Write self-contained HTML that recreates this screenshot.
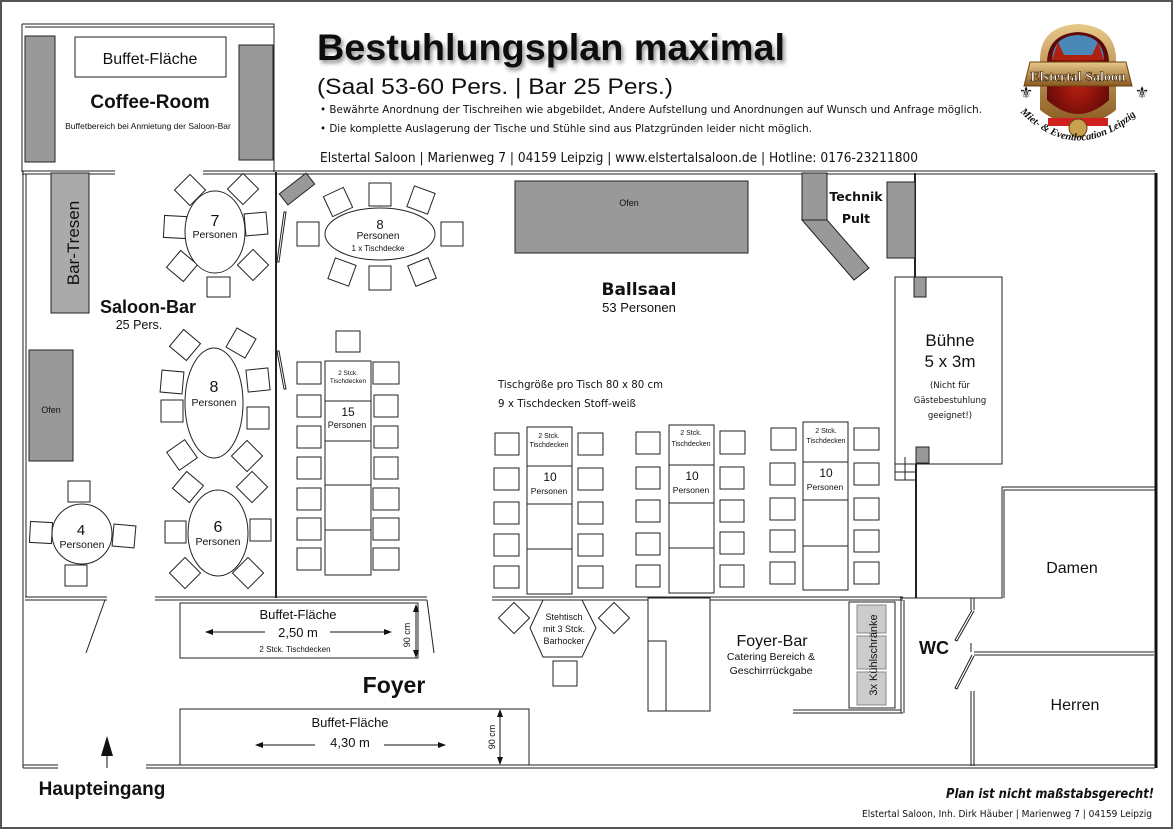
<!DOCTYPE html>
<html><head><meta charset="utf-8"><style>
html,body{margin:0;padding:0;background:#fff;}
svg{display:block;}
text{font-family:"Liberation Sans",sans-serif;fill:#111;}
.c{fill:#fff;stroke:#222;stroke-width:1;}
.g{fill:#999;stroke:#222;stroke-width:1;}
.w{fill:none;stroke:#222;stroke-width:1;}
.dv{font-family:"DejaVu Sans",sans-serif;}
</style></head><body>
<svg width="1173" height="829" viewBox="0 0 1173 829" xmlns="http://www.w3.org/2000/svg">
<defs>
<marker id="ah" markerWidth="8" markerHeight="8" refX="7" refY="4" orient="auto"><path d="M0,1 L8,4 L0,7 z" fill="#111"/></marker>
<filter id="sh" x="-5%" y="-20%" width="110%" height="150%"><feDropShadow dx="2" dy="3" stdDeviation="2" flood-color="#000" flood-opacity="0.45"/></filter>
<linearGradient id="gold" x1="0" y1="0" x2="0" y2="1"><stop offset="0" stop-color="#e8c98a"/><stop offset="1" stop-color="#8a5a20"/></linearGradient>
<radialGradient id="red" cx="0.5" cy="0.6" r="0.6"><stop offset="0" stop-color="#c02010"/><stop offset="1" stop-color="#5a0808"/></radialGradient>
</defs>
<rect x="1" y="1" width="1171" height="827" fill="#fff" stroke="#555" stroke-width="2"/>

<!-- Coffee room -->
<path class="w" d="M22,24 H274 V172 M22,24 V172 M25,27 H274"/>
<rect class="g" x="25" y="36" width="30" height="126"/>
<rect class="g" x="239" y="45" width="34" height="115"/>
<rect class="c" x="75" y="37" width="151" height="40"/>
<text x="150" y="64" font-size="16" text-anchor="middle">Buffet-Fläche</text>
<text x="150" y="108" font-size="19" font-weight="bold" text-anchor="middle">Coffee-Room</text>
<text x="148" y="129" font-size="8.5" text-anchor="middle">Buffetbereich bei Anmietung der Saloon-Bar</text>

<!-- header -->
<text x="317" y="60" font-size="37" font-weight="bold" filter="url(#sh)" textLength="468" lengthAdjust="spacingAndGlyphs">Bestuhlungsplan maximal</text>
<text x="317" y="94" font-size="22" textLength="356" lengthAdjust="spacingAndGlyphs">(Saal 53-60 Pers. | Bar 25 Pers.)</text>
<text x="320" y="113" font-size="10.5" class="dv" textLength="662" lengthAdjust="spacingAndGlyphs">•  Bewährte Anordnung der Tischreihen wie abgebildet, Andere Aufstellung und Anordnungen auf Wunsch und Anfrage möglich.</text>
<text x="320" y="132" font-size="10.5" class="dv" textLength="492" lengthAdjust="spacingAndGlyphs">•  Die komplette Auslagerung der Tische und Stühle sind aus Platzgründen leider nicht möglich.</text>
<text x="320" y="162" font-size="13.5" class="dv" textLength="598" lengthAdjust="spacingAndGlyphs">Elstertal Saloon | Marienweg 7 | 04159 Leipzig | www.elstertalsaloon.de | Hotline: 0176-23211800</text>

<!-- logo -->
<path d="M1040,110 L1040,60 Q1040,26 1078,24 Q1116,26 1116,60 L1116,110 Q1078,140 1040,110 z" fill="url(#gold)"/>
<path d="M1047,100 L1047,62 Q1048,34 1078,32 Q1108,34 1109,62 L1109,100 Q1078,128 1047,100 z" fill="url(#red)"/>
<path d="M1052,60 Q1053,36 1078,35 Q1103,36 1104,60 z" fill="#4a88b8"/>
<path d="M1052,60 L1058,42 L1064,55 L1092,55 L1098,42 L1104,60 z" fill="#b02010"/>
<path d="M1030,62 L1126,62 L1132,86 L1024,86 z" fill="url(#gold)" stroke="#6a4010"/>
<text x="1078" y="81" font-size="14" font-weight="bold" text-anchor="middle" style="font-family:'Liberation Serif',serif;fill:#fff;stroke:#3a2008;stroke-width:0.6">Elstertal Saloon</text>
<rect x="1048" y="118" width="60" height="8" fill="#d02020"/>
<circle cx="1078" cy="128" r="9" fill="#c8a050" stroke="#6a4010"/>
<text x="1026" y="98" font-size="16" text-anchor="middle">⚜</text>
<text x="1142" y="98" font-size="16" text-anchor="middle">⚜</text>
<path id="arc" d="M1020,112 Q1078,170 1142,110" fill="none"/>
<text font-size="10.5" style="font-family:'Liberation Serif',serif;font-weight:bold;font-style:italic"><textPath href="#arc">Miet- &amp; Eventlocation Leipzig</textPath></text>

<!-- main walls -->
<path class="w" d="M22,171 H115 M22,174 H115 M203,171 H1155 M203,174 H1155"/>
<path class="w" d="M23,171 V768 M26,174 V597"/>
<line x1="1156" y1="173" x2="1156" y2="768" stroke="#111" stroke-width="3"/>
<path class="w" d="M23,765 H58 M23,768 H58 M146,765 H1155 M146,768 H1155"/>
<path class="w" d="M25,597 H107 M25,600 H107 M155,597 H427 M155,600 H427 M492,597 H903 M492,600 H903"/>
<line x1="276" y1="172" x2="276" y2="598" stroke="#222" stroke-width="2"/>
<path class="w" d="M277,262 L284,212 L286,212 L279,262 z M277,351 L284,389 L286,389 L279,351 z"/>
<path class="w" d="M105,600 L86,653 M427,600 L434,653"/>
<rect class="g" x="280" y="182" width="34" height="14" transform="rotate(-38 297 189)"/>

<!-- right side walls -->
<line x1="915" y1="173" x2="915" y2="277" stroke="#222" stroke-width="2"/>
<rect class="c" x="895" y="277" width="107" height="187"/>
<rect class="g" x="914" y="277" width="12" height="20"/>
<rect class="g" x="916" y="447" width="13" height="16"/>
<path class="w" d="M895,464 V480 H916 M895,472 H916 M905,457 V480"/>
<line x1="916" y1="464" x2="916" y2="598" stroke="#222" stroke-width="2"/>
<path class="w" d="M900,598 H1002 V487 H1155 M1004,598 V490 H1155"/>
<text x="950" y="346" font-size="17" text-anchor="middle">Bühne</text>
<text x="950" y="367" font-size="17" text-anchor="middle">5 x 3m</text>
<text x="950" y="388" font-size="8.5" text-anchor="middle" class="dv">(Nicht für</text>
<text x="950" y="403" font-size="8.5" text-anchor="middle" class="dv">Gästebestuhlung</text>
<text x="950" y="418" font-size="8.5" text-anchor="middle" class="dv">geeignet!)</text>
<text x="1072" y="573" font-size="16" text-anchor="middle">Damen</text>
<text x="1075" y="710" font-size="16" text-anchor="middle">Herren</text>
<path class="w" d="M971,598 V610 M974,598 V610 M971,643 V652 M974,652 H1154 M974,655 H1154 M971,691 V766 M974,691 V766"/>
<path class="w" d="M972,610 L955,640 L957,641 L974,611 M972,655 L955,688 L957,689 L974,656"/>
<text x="934" y="654" font-size="18" font-weight="bold" text-anchor="middle">WC</text>

<!-- foyer bar -->
<path class="w" d="M901,598 V713 M904,600 V713 M793,713 H903 M793,710 H901"/>
<rect class="c" x="849" y="602" width="46" height="106"/>
<rect x="857" y="605" width="29" height="28" fill="#ccc" stroke="#888"/>
<rect x="857" y="636" width="29" height="33" fill="#ccc" stroke="#888"/>
<rect x="857" y="672" width="29" height="33" fill="#ccc" stroke="#888"/>
<text transform="translate(877,655) rotate(-90)" font-size="11" text-anchor="middle">3x Kühlschränke</text>
<rect class="c" x="648" y="598" width="62" height="113"/>
<rect class="c" x="648" y="641" width="18" height="70"/>
<text x="772" y="646" font-size="16" text-anchor="middle">Foyer-Bar</text>
<text x="771" y="660" font-size="10.5" text-anchor="middle">Catering Bereich &amp;</text>
<text x="771" y="674" font-size="10.5" text-anchor="middle">Geschirrrückgabe</text>
<polygon class="c" points="543,600 582,600 596,628 582,657 543,657 530,628"/>
<text x="564" y="620" font-size="9" text-anchor="middle">Stehtisch</text>
<text x="564" y="632" font-size="9" text-anchor="middle">mit 3 Stck.</text>
<text x="564" y="644" font-size="9" text-anchor="middle">Barhocker</text>
<rect class="c" x="503" y="607" width="22" height="22" transform="rotate(45 514 618)"/>
<rect class="c" x="603" y="607" width="22" height="22" transform="rotate(45 614 618)"/>
<rect class="c" x="553" y="661" width="24" height="25"/>

<!-- foyer buffets -->
<rect class="c" x="180" y="603" width="238" height="55"/>
<text x="298" y="619" font-size="13" text-anchor="middle">Buffet-Fläche</text>
<line x1="265" y1="632" x2="206" y2="632" stroke="#111" marker-end="url(#ah)"/>
<line x1="330" y1="632" x2="391" y2="632" stroke="#111" marker-end="url(#ah)"/>
<text x="298" y="637" font-size="13" text-anchor="middle">2,50 m</text>
<text x="295" y="652" font-size="8" text-anchor="middle">2 Stck. Tischdecken</text>
<line x1="416" y1="630" x2="416" y2="605" stroke="#111" marker-end="url(#ah)"/>
<line x1="416" y1="630" x2="416" y2="657" stroke="#111" marker-end="url(#ah)"/>
<text transform="translate(410,635) rotate(-90)" font-size="9" text-anchor="middle">90 cm</text>
<rect class="c" x="180" y="709" width="349" height="56"/>
<text x="350" y="727" font-size="13" text-anchor="middle">Buffet-Fläche</text>
<line x1="315" y1="745" x2="256" y2="745" stroke="#111" marker-end="url(#ah)"/>
<line x1="384" y1="745" x2="445" y2="745" stroke="#111" marker-end="url(#ah)"/>
<text x="350" y="747" font-size="13" text-anchor="middle">4,30 m</text>
<line x1="500" y1="737" x2="500" y2="710" stroke="#111" marker-end="url(#ah)"/>
<line x1="500" y1="737" x2="500" y2="764" stroke="#111" marker-end="url(#ah)"/>
<text transform="translate(495,737) rotate(-90)" font-size="9" text-anchor="middle">90 cm</text>
<text x="394" y="693" font-size="23" font-weight="bold" text-anchor="middle">Foyer</text>
<line x1="107" y1="768" x2="107" y2="752" stroke="#111"/>
<polygon points="107,736 101,756 113,756" fill="#111"/>
<text x="102" y="795" font-size="19" font-weight="bold" text-anchor="middle">Haupteingang</text>

<!-- saloon bar -->
<rect x="51" y="173" width="38" height="140" fill="#aaa" stroke="#222"/>
<text transform="translate(79,243) rotate(-90)" font-size="17" text-anchor="middle">Bar-Tresen</text>
<text x="148" y="313" font-size="18" font-weight="bold" text-anchor="middle">Saloon-Bar</text>
<text x="139" y="329" font-size="12.5" text-anchor="middle">25 Pers.</text>
<rect class="g" x="29" y="350" width="44" height="111"/>
<text x="51" y="413" font-size="9" text-anchor="middle">Ofen</text>

<!-- chairs -->
<g>
<rect class="c" x="179" y="179" width="22" height="22" transform="rotate(45 190 190)"/>
<rect class="c" x="232" y="178" width="22" height="22" transform="rotate(45 243 189)"/>
<rect class="c" x="164" y="216" width="22" height="22" transform="rotate(3 175 227)"/>
<rect class="c" x="245" y="213" width="22" height="22" transform="rotate(-5 256 224)"/>
<rect class="c" x="171" y="255" width="22" height="22" transform="rotate(40 182 266)"/>
<rect class="c" x="242" y="254" width="22" height="22" transform="rotate(45 253 265)"/>
<rect class="c" x="207" y="277" width="23" height="20"/>
<rect class="c" x="327" y="191" width="22" height="22" transform="rotate(-25 338 202)"/>
<rect class="c" x="369" y="183" width="22" height="23"/>
<rect class="c" x="410" y="189" width="22" height="22" transform="rotate(20 421 200)"/>
<rect class="c" x="297" y="222" width="22" height="24"/>
<rect class="c" x="441" y="222" width="22" height="24"/>
<rect class="c" x="331" y="261" width="22" height="22" transform="rotate(20 342 272)"/>
<rect class="c" x="369" y="266" width="22" height="24"/>
<rect class="c" x="411" y="261" width="22" height="22" transform="rotate(-22 422 272)"/>
<rect class="c" x="174" y="334" width="22" height="22" transform="rotate(40 185 345)"/>
<rect class="c" x="230" y="332" width="22" height="22" transform="rotate(30 241 343)"/>
<rect class="c" x="161" y="371" width="22" height="22" transform="rotate(5 172 382)"/>
<rect class="c" x="247" y="369" width="22" height="22" transform="rotate(-6 258 380)"/>
<rect class="c" x="161" y="400" width="22" height="22"/>
<rect class="c" x="247" y="407" width="22" height="22"/>
<rect class="c" x="171" y="444" width="22" height="22" transform="rotate(-35 182 455)"/>
<rect class="c" x="236" y="445" width="22" height="22" transform="rotate(45 247 456)"/>
<rect class="c" x="177" y="476" width="22" height="22" transform="rotate(40 188 487)"/>
<rect class="c" x="241" y="476" width="22" height="22" transform="rotate(45 252 487)"/>
<rect class="c" x="165" y="521" width="21" height="22"/>
<rect class="c" x="250" y="519" width="21" height="22"/>
<rect class="c" x="174" y="562" width="22" height="22" transform="rotate(45 185 573)"/>
<rect class="c" x="237" y="562" width="22" height="22" transform="rotate(45 248 573)"/>
<rect class="c" x="68" y="481" width="22" height="21"/>
<rect class="c" x="30" y="522" width="22" height="21" transform="rotate(3 41 532)"/>
<rect class="c" x="113" y="525" width="22" height="22" transform="rotate(5 124 536)"/>
<rect class="c" x="65" y="565" width="22" height="21"/>
</g>

<ellipse class="c" cx="215" cy="232" rx="30" ry="41" stroke-width="1.5"/>
<text x="215" y="226" font-size="16" text-anchor="middle">7</text>
<text x="215" y="238" font-size="10.5" text-anchor="middle">Personen</text>
<ellipse class="c" cx="380" cy="234" rx="55" ry="26"/>
<text x="380" y="229" font-size="13" text-anchor="middle">8</text>
<text x="378" y="239" font-size="10" text-anchor="middle">Personen</text>
<text x="378" y="251" font-size="8" text-anchor="middle">1 x Tischdecke</text>
<ellipse class="c" cx="214" cy="403" rx="29" ry="55" stroke-width="1.5"/>
<text x="214" y="392" font-size="16" text-anchor="middle">8</text>
<text x="214" y="406" font-size="10.5" text-anchor="middle">Personen</text>
<ellipse class="c" cx="218" cy="533" rx="30" ry="43" stroke-width="1.5"/>
<text x="218" y="532" font-size="16" text-anchor="middle">6</text>
<text x="218" y="545" font-size="10.5" text-anchor="middle">Personen</text>
<circle class="c" cx="82" cy="534" r="30" stroke-width="1.5"/>
<text x="81" y="535" font-size="15" text-anchor="middle">4</text>
<text x="82" y="548" font-size="10.5" text-anchor="middle">Personen</text>

<!-- long table 15 -->
<g>
<rect class="c" x="325" y="361" width="46" height="214"/>
<path class="w" d="M325,401 H371 M325,441 H371 M325,485 H371 M325,530 H371"/>
<text x="348" y="375" font-size="6.5" text-anchor="middle">2 Stck.</text>
<text x="348" y="383" font-size="6.5" text-anchor="middle">Tischdecken</text>
<text x="348" y="416" font-size="12" text-anchor="middle">15</text>
<text x="347" y="428" font-size="9" text-anchor="middle">Personen</text>
<rect class="c" x="336" y="331" width="24" height="21"/>
<rect class="c" x="297" y="362" width="24" height="22"/><rect class="c" x="297" y="395" width="24" height="22"/><rect class="c" x="297" y="426" width="24" height="22"/><rect class="c" x="297" y="457" width="24" height="22"/><rect class="c" x="297" y="488" width="24" height="22"/><rect class="c" x="297" y="518" width="24" height="22"/><rect class="c" x="297" y="548" width="24" height="22"/>
<rect class="c" x="373" y="362" width="26" height="22"/><rect class="c" x="374" y="395" width="24" height="22"/><rect class="c" x="374" y="426" width="24" height="22"/><rect class="c" x="374" y="457" width="24" height="22"/><rect class="c" x="373" y="488" width="26" height="22"/><rect class="c" x="373" y="518" width="26" height="22"/><rect class="c" x="373" y="548" width="26" height="22"/>
</g>

<!-- ballsaal -->
<rect class="g" x="515" y="181" width="233" height="72"/>
<text x="629" y="206" font-size="9" text-anchor="middle">Ofen</text>
<rect class="g" x="802" y="173" width="25" height="47"/>
<polygon class="g" points="802,220 827,220 869,268 854,280"/>
<rect class="g" x="887" y="182" width="28" height="76"/>
<text x="856" y="201" font-size="12.5" font-weight="bold" text-anchor="middle" class="dv">Technik</text>
<text x="856" y="223" font-size="12.5" font-weight="bold" text-anchor="middle" class="dv">Pult</text>
<text x="639" y="295" font-size="17" font-weight="bold" text-anchor="middle" class="dv">Ballsaal</text>
<text x="639" y="312" font-size="13" text-anchor="middle">53 Personen</text>
<text x="498" y="388" font-size="10.5" class="dv" textLength="165" lengthAdjust="spacingAndGlyphs">Tischgröße pro Tisch 80 x 80 cm</text>
<text x="498" y="407" font-size="10.5" class="dv" textLength="138" lengthAdjust="spacingAndGlyphs">9 x Tischdecken Stoff-weiß</text>

<g>
<rect class="c" x="527" y="427" width="45" height="167"/>
<path class="w" d="M527,466 H572 M527,504 H572 M527,549 H572"/>
<text x="549" y="438" font-size="7" text-anchor="middle">2 Stck.</text>
<text x="549" y="447" font-size="7" text-anchor="middle">Tischdecken</text>
<text x="550" y="481" font-size="12" text-anchor="middle">10</text>
<text x="549" y="494" font-size="8.5" text-anchor="middle">Personen</text>
<rect class="c" x="495" y="433" width="24" height="22"/><rect class="c" x="494" y="468" width="25" height="22"/><rect class="c" x="494" y="502" width="25" height="22"/><rect class="c" x="494" y="534" width="25" height="22"/><rect class="c" x="494" y="566" width="25" height="22"/>
<rect class="c" x="578" y="433" width="25" height="22"/><rect class="c" x="578" y="468" width="25" height="22"/><rect class="c" x="578" y="502" width="25" height="22"/><rect class="c" x="578" y="534" width="25" height="22"/><rect class="c" x="578" y="566" width="25" height="22"/>

<rect class="c" x="669" y="425" width="45" height="168"/>
<path class="w" d="M669,465 H714 M669,503 H714 M669,548 H714"/>
<text x="691" y="435" font-size="7" text-anchor="middle">2 Stck.</text>
<text x="691" y="446" font-size="7" text-anchor="middle">Tischdecken</text>
<text x="692" y="480" font-size="12" text-anchor="middle">10</text>
<text x="691" y="493" font-size="8.5" text-anchor="middle">Personen</text>
<rect class="c" x="636" y="432" width="24" height="22"/><rect class="c" x="636" y="467" width="24" height="22"/><rect class="c" x="636" y="500" width="24" height="22"/><rect class="c" x="636" y="533" width="24" height="22"/><rect class="c" x="636" y="565" width="24" height="22"/>
<rect class="c" x="720" y="431" width="25" height="23"/><rect class="c" x="720" y="467" width="24" height="22"/><rect class="c" x="720" y="500" width="24" height="22"/><rect class="c" x="720" y="532" width="24" height="22"/><rect class="c" x="720" y="565" width="24" height="22"/>

<rect class="c" x="803" y="422" width="45" height="168"/>
<path class="w" d="M803,462 H848 M803,500 H848 M803,546 H848"/>
<text x="826" y="433" font-size="7" text-anchor="middle">2 Stck.</text>
<text x="826" y="443" font-size="7" text-anchor="middle">Tischdecken</text>
<text x="826" y="477" font-size="12" text-anchor="middle">10</text>
<text x="825" y="490" font-size="8.5" text-anchor="middle">Personen</text>
<rect class="c" x="771" y="428" width="25" height="22"/><rect class="c" x="770" y="463" width="25" height="22"/><rect class="c" x="770" y="498" width="25" height="22"/><rect class="c" x="770" y="530" width="25" height="22"/><rect class="c" x="770" y="562" width="25" height="22"/>
<rect class="c" x="854" y="428" width="25" height="22"/><rect class="c" x="854" y="463" width="25" height="22"/><rect class="c" x="854" y="498" width="25" height="22"/><rect class="c" x="854" y="530" width="25" height="22"/><rect class="c" x="854" y="562" width="25" height="22"/>
</g>

<!-- footer -->
<text x="946" y="798" font-size="13.5" font-weight="bold" font-style="italic" class="dv" textLength="208" lengthAdjust="spacingAndGlyphs">Plan ist nicht maßstabsgerecht!</text>
<text x="862" y="817" font-size="9.5" class="dv" textLength="290" lengthAdjust="spacingAndGlyphs">Elstertal Saloon, Inh. Dirk Häuber | Marienweg 7 | 04159 Leipzig</text>
</svg>
</body></html>
